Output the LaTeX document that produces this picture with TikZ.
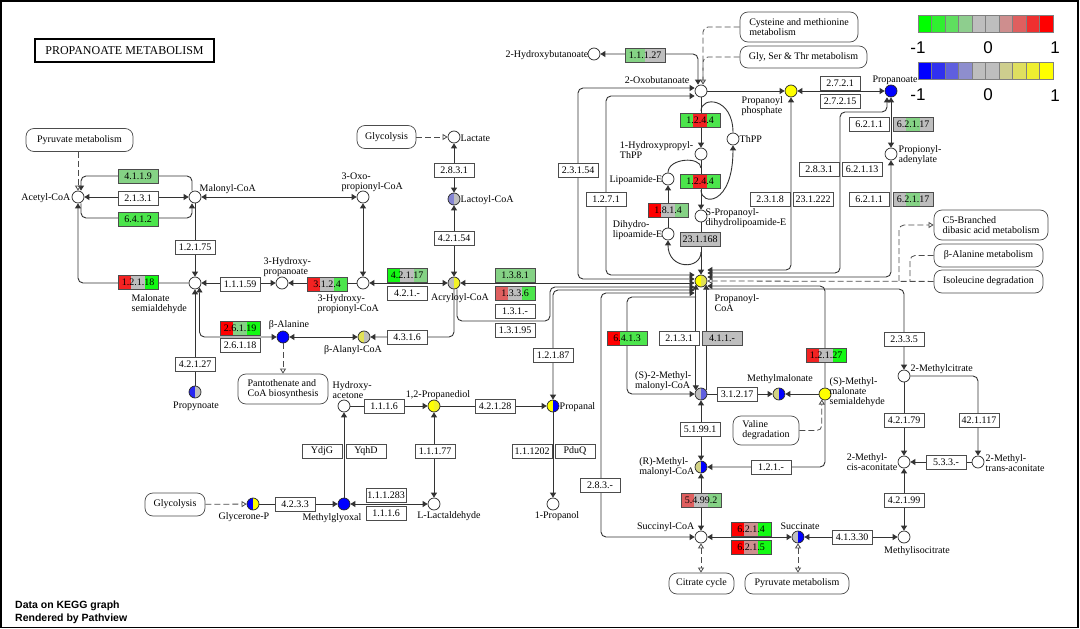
\documentclass[tikz,border=0pt]{standalone}
\usepackage{fontspec}
\setmainfont{Liberation Serif}
\setsansfont{Liberation Sans}
\usetikzlibrary{arrows.meta, calc, positioning}

% pathview colour scale
\definecolor{kgreen}{HTML}{00FF00}
\definecolor{kred}{HTML}{FF0000}
\definecolor{kblue}{HTML}{0000FF}
\definecolor{kyellow}{HTML}{FFFF00}
\definecolor{kgray}{HTML}{BEBEBE}
\colorlet{gA}{kgreen!90!kgray}
\colorlet{gB}{kgreen!60!kgray}
\colorlet{gC}{kgreen!30!kgray}
\colorlet{rA}{kred}
\colorlet{rB}{kred!82!kgray}
\colorlet{rC}{kred!50!kgray}
\colorlet{rD}{kred!25!kgray}
\colorlet{gy}{kgray}
\colorlet{bA}{kblue}
\colorlet{bB}{kblue!80!kgray}
\colorlet{bC}{kblue!50!kgray}
\colorlet{bD}{kblue!30!kgray}
\colorlet{yA}{kyellow}
\colorlet{yB}{kyellow!80!kgray}
\colorlet{yC}{kyellow!55!kgray}
\colorlet{kh}{kyellow!30!kgray}

\tikzset{
  kt/.tip={Triangle[length=5pt, width=6pt]},
  ko/.tip={Triangle[open, length=5pt, width=6pt]}
}

\begin{document}
\begin{tikzpicture}[x=1pt, y=-1pt,
    font=\fontsize{10}{10}\selectfont,
    cpd/.style={circle, draw=black!85, line width=0.7pt, fill=white, minimum size=12pt, inner sep=0pt},
    half/.style 2 args={cpd, path picture={
        \fill[#1] (path picture bounding box.south west) rectangle (path picture bounding box.north);
        \fill[#2] (path picture bounding box.south) rectangle (path picture bounding box.north east);}},
    ec/.style={rectangle, draw=black!70, line width=0.7pt, fill=white, minimum width=40pt, minimum height=14pt, inner sep=0pt},
    ec2/.style 2 args={ec, path picture={
        \fill[#1] (path picture bounding box.south west) rectangle ++(20pt,16pt);
        \fill[#2] ([xshift=20pt]path picture bounding box.south west) rectangle ++(20pt,16pt);}},
    ec3/.style n args={3}{ec, path picture={
        \fill[#1] (path picture bounding box.south west) rectangle ++(13.4pt,16pt);
        \fill[#2] ([xshift=13.33pt]path picture bounding box.south west) rectangle ++(13.4pt,16pt);
        \fill[#3] ([xshift=26.67pt]path picture bounding box.south west) rectangle ++(13.4pt,16pt);}},
    map/.style={rectangle, rounded corners=8pt, draw=black!70, line width=0.7pt, fill=white, minimum height=23pt, inner xsep=6pt, align=left},
    lbl/.style={inner sep=0.5pt, align=left},
    key/.style={font=\sffamily\fontsize{17}{17}\selectfont, inner sep=0pt},
    rx/.style={draw=black!80, line width=0.9pt, -kt, rounded corners=5pt},
    rxx/.style={draw=black!80, line width=0.9pt, kt-kt, rounded corners=5pt},
    mapl/.style={draw=black!70, line width=0.8pt, dash pattern=on 6pt off 3pt, -ko, rounded corners=5pt},
    mapb/.style={draw=black!70, line width=0.8pt, dash pattern=on 6pt off 3pt, ko-ko},
    mapd/.style={draw=black!70, line width=0.8pt, dash pattern=on 6pt off 3pt, rounded corners=5pt}
]
\useasboundingbox (0,0) rectangle (1080,629);
\draw[line width=1.3pt] (1,1) rectangle (1078,627.5);

% title
\node[draw, line width=1.5pt, minimum width=179pt, minimum height=23pt, font=\fontsize{12}{12}\selectfont] (title) at (124.5,50.5) {PROPANOATE METABOLISM};

% colour keys
\foreach \c [count=\i] in {kgreen, kgreen!75!kgray, kgreen!50!kgray, kgreen!25!kgray, kgray, kgray, kred!25!kgray, kred!50!kgray, kred!75!kgray, kred}
  \filldraw[fill=\c, draw=black!50, line width=0.3pt] ({918+13.5*(\i-1)},15) rectangle ++(13.5,17);
\foreach \c [count=\i] in {kblue, kblue!75!kgray, kblue!50!kgray, kblue!25!kgray, kgray, kgray, kyellow!25!kgray, kyellow!50!kgray, kyellow!75!kgray, kyellow}
  \filldraw[fill=\c, draw=black!50, line width=0.3pt] ({918+13.5*(\i-1)},62) rectangle ++(13.5,17);
\node[key] (k1lo) at (918,48) {-1};
\node[key] (k1mid) at (988,48) {0};
\node[key] (k1hi) at (1055,48) {1};
\node[key] (k2lo) at (918,95) {-1};
\node[key] (k2mid) at (988,95) {0};
\node[key] (k2hi) at (1055,96) {1};

% compounds
\node[cpd] (acetyl) at (78,197) {};
\node[cpd] (malonyl) at (195,197) {};
\node[cpd] (oxoprop) at (363,197) {};
\node[cpd] (lactate) at (454,137) {};
\node[half={bD}{gy}] (lactoyl) at (454,199) {};
\node[cpd] (hbut) at (594,54) {};
\node[cpd] (oxobut) at (701,91) {};
\node[cpd, fill=yA] (pphos) at (791,91) {};
\node[cpd, fill=bA] (propanoate) at (891,91) {};
\node[cpd] (padenyl) at (891,154) {};
\node[cpd] (thpp) at (733,139) {};
\node[cpd] (hpthpp) at (701,154) {};
\node[cpd] (lipo) at (668,179) {};
\node[cpd] (spdl) at (701,216) {};
\node[cpd] (dhlipo) at (668,234) {};
\node[half={yA}{yC}] (pcoa) at (701,281) {};
\node[half={gy}{yB}] (acry) at (454,283) {};
\node[cpd] (hpcoa) at (363,283) {};
\node[cpd] (hpa) at (282,283) {};
\node[cpd] (malsa) at (195,283) {};
\node[cpd, fill=bA] (balanine) at (283,337) {};
\node[half={yC}{gy}] (balcoa) at (364,337) {};
\node[half={bB}{gy}] (propynoate) at (195,392) {};
\node[cpd] (hacetone) at (344,406) {};
\node[half={yA}{yB}] (propdiol) at (434,406) {};
\node[half={yA}{bA}] (propanal) at (553,406) {};
\node[cpd, fill=bA] (mgly) at (344,504) {};
\node[half={bA}{yA}] (glycp) at (253,504) {};
\node[cpd] (llact) at (434,504) {};
\node[cpd] (propanol) at (553,504) {};
\node[cpd] (succoa) at (701,537) {};
\node[half={gy}{bA}] (succ) at (798,537) {};
\node[cpd] (micit) at (904,537) {};
\node[cpd] (cisac) at (904,462) {};
\node[cpd] (transac) at (978,462) {};
\node[cpd] (mcit) at (904,376) {};
\node[half={kh}{bA}] (rmmcoa) at (701,467) {};
\node[half={gy}{bC}] (smmcoa) at (701,394) {};
\node[half={kh}{bA}] (mmal) at (779,394) {};
\node[cpd, fill=yA] (mmsa) at (825,394) {};

% pathway maps
\node[map, minimum width=107pt] (pyrmet) at (79.5,140) {Pyruvate metabolism};
\node[map, minimum width=59pt] (glyc1) at (386.5,137) {Glycolysis};
\node[map, minimum width=118pt, minimum height=30pt] (cysmet) at (799,27) {Cysteine and methionine\\metabolism};
\node[map, minimum width=127pt, minimum height=22pt] (glyser) at (803.5,57) {Gly, Ser \& Thr metabolism};
\node[map, minimum width=114pt, minimum height=30pt] (c5) at (991,225) {C5-Branched\\dibasic acid metabolism};
\node[map, minimum width=109pt] (balmet) at (988.5,255.5) {β-Alanine metabolism};
\node[map, minimum width=109pt] (ile) at (988.5,281.5) {Isoleucine degradation};
\node[map, minimum width=90pt, minimum height=30pt] (pantot) at (283,389) {Pantothenate and\\CoA biosynthesis};
\node[map, minimum width=60pt] (glyc2) at (175,504.5) {Glycolysis};
\node[map, minimum width=66pt, minimum height=29pt] (valdeg) at (766,430.5) {Valine\\degradation};
\node[map, minimum width=65pt, minimum height=21pt] (citcyc) at (701.5,583.5) {Citrate cycle};
\node[map, minimum width=104pt, minimum height=21pt] (pyrmet2) at (797,583.5) {Pyruvate metabolism};

% junctions on reaction lines
\coordinate (thpp-a) at (701,111);
\coordinate (thpp-b) at (701,190);
\coordinate (lipo-a) at (701,168);
\coordinate (lipo-b) at (701,252);
\coordinate (mm-j) at (696,297);
\coordinate (c5-j) at (899,281);
\coordinate (bal-j) at (910,281);

% reactions, upper left
\draw[rxx] (acetyl) -- (malonyl);
\draw[rx] ([xshift=-3pt]malonyl.north) |- (140,176) -| ([xshift=3pt]acetyl.north);
\draw[rx] ([xshift=3pt]acetyl.south) |- (140,218) -| ([xshift=-3pt]malonyl.south);
\draw[mapl] (pyrmet.south -| acetyl) -- (acetyl);
\draw[rxx] (malonyl) -- (oxoprop);
\draw[rx] (malonyl) -- (malsa);
\draw[rx] (malsa) -| (acetyl);
\draw[rxx] (hpa) -- (malsa);
\draw[rx] (hpcoa) -- (hpa);
\draw[rxx] (oxoprop) -- (hpcoa);
\draw[rxx] (hpcoa) -- (acry);
\draw[rxx] (lactoyl) -- (acry);
\draw[rxx] (lactate) -- (lactoyl);
\draw[mapl] (glyc1) -- (lactate);

% into propanoyl-CoA from the left
\draw[rxx] (acry) -- ([yshift=-2pt]pcoa.west);
\draw[rx] ([xshift=3pt]acry.south) |- (550,321) -- (550,287) -- ([yshift=-6pt]pcoa.west);
\draw[rx] (acry) |- (balcoa);
\draw[rxx] (propanal) |- ([yshift=-9pt]pcoa.west);
\draw[rxx] ([yshift=-12pt]pcoa.west) -| (601,537) -- (succoa);
\draw[rxx] ([yshift=2pt]pcoa.west) -| (578,88) -- ([yshift=3pt]oxobut.west);
\draw[rxx] ([yshift=6pt]pcoa.west) -| (606,96) -- ([yshift=-5pt]oxobut.west);

% 2-oxobutanoate branch
\draw[rxx] ([xshift=-3pt]oxobut.north) |- (hbut);
\draw[mapl] (cysmet) -| ([xshift=2pt]oxobut.north);
\draw[mapd] (glyser) -| ([xshift=2pt]oxobut.north);
\draw[rx] (oxobut) -- (pphos);
\draw[rxx] (pphos) -- (propanoate);
\draw[rx] (oxobut) -- (hpthpp);
\draw[rx] (hpthpp) -- (spdl);
\draw[rx] (spdl) -- (pcoa);
\draw[draw=black!80, line width=0.9pt] (thpp) .. controls (733,97) and (701,96) .. (thpp-a);
\draw[rx] (thpp-b) .. controls (701,206) and (733,206) .. (thpp);
\draw[draw=black!80, line width=0.9pt] (lipo) .. controls (668,158) and (701,156) .. (lipo-a);
\draw[rx] (lipo-b) .. controls (701,270) and (668,270) .. (dhlipo);
\draw[rx] (dhlipo) -- (lipo);

% into propanoyl-CoA from the right
\draw[rxx] (pphos) |- ([yshift=11pt]pcoa.east);
\draw[rxx] ([yshift=8pt]pcoa.east) -| (840,112) -- (887,112) -- ([xshift=-4pt]propanoate.south);
\draw[rxx] (propanoate) -- (padenyl);
\draw[rxx] (padenyl) |- ([yshift=4pt]pcoa.east);
\draw[mapl] (ile) -- (pcoa);
\draw[mapl] (c5-j) |- (c5);
\draw[mapd] (balmet) -| (bal-j);
\draw[rx] (mmsa) |- ([yshift=-5pt]pcoa.east);
\draw[rx] ([yshift=-8pt]pcoa.east) -| (mcit);

% methylmalonyl-CoA and succinate
\draw[rxx] (pcoa.-145) -- (smmcoa.145);
\draw[rx] (smmcoa.35) -- (pcoa.-35);
\draw[rx] (mm-j) -| (627,330) |- (smmcoa);
\draw[rxx] (smmcoa) -- (rmmcoa);
\draw[rx] (smmcoa) -- (mmal);
\draw[rx] (mmsa) -- (mmal);
\draw[rx] (mmsa) |- (rmmcoa);
\draw[mapl] (valdeg) -| (mmsa.-120);
\draw[rxx] (rmmcoa) -- (succoa);
\draw[rxx] (succoa) -- (succ);
\draw[rxx] (micit) -- (succ);
\draw[rxx] (micit) -- (cisac);
\draw[rx] (mcit) -- (cisac);
\draw[rx] (mcit) -| (transac);
\draw[rx] (transac) -- (cisac);
\draw[mapb] (succoa) -- (citcyc.north -| succoa);
\draw[mapb] (succ) -- (pyrmet2.north -| succ);

% lower left
\draw[rxx] (balanine) -- (balcoa);
\draw[rxx] (balanine) -| (malsa.-45);
\draw[rx] (propynoate) -- (malsa);
\draw[mapl] (balanine) -- (pantot);
\draw[rx] (hacetone) -- (propdiol);
\draw[rx] (propdiol) -- (propanal);
\draw[rx] (propanal) -- (propanol);
\draw[rx] (mgly) -- (hacetone);
\draw[rxx] (mgly) -- (llact);
\draw[rxx] (llact) -- (propdiol);
\draw[rx] (glycp) -- (mgly);
\draw[mapl] (glyc2) -- (glycp);

% enzymes
\node[ec3={gC}{gC}{gC}] (e4119) at (138,176) {4.1.1.9};
\node[ec] (e2131a) at (138,198) {2.1.3.1};
\node[ec3={gB}{gB}{gB}] (e6412) at (138,219) {6.4.1.2};
\node[ec] (e12175) at (195,247) {1.2.1.75};
\node[ec3={rB}{gy}{gA}] (e12118) at (138,282) {1.2.1.18};
\node[ec] (e11159) at (240,284) {1.1.1.59};
\node[ec3={rB}{gy}{gB}] (e3124) at (327,284) {3.1.2.4};
\node[ec3={gA}{gy}{gC}] (e42117) at (407,275) {4.2.1.17};
\node[ec] (e421x) at (407,293) {4.2.1.-};
\node[ec] (e42154) at (454,238) {4.2.1.54};
\node[ec] (e2831a) at (454,170) {2.8.3.1};
\node[ec3={gC}{gC}{gC}] (e1381) at (515,275) {1.3.8.1};
\node[ec3={rC}{gy}{gB}] (e1336) at (515,293) {1.3.3.6};
\node[ec] (e131x) at (515,311) {1.3.1.-};
\node[ec] (e13195) at (515,330) {1.3.1.95};
\node[ec] (e12187) at (553,355) {1.2.1.87};
\node[ec] (e4316) at (407,337) {4.3.1.6};
\node[ec3={rA}{gC}{gA}] (e26119) at (240,328) {2.6.1.19};
\node[ec] (e26118) at (240,345) {2.6.1.18};
\node[ec] (e42127) at (195,364) {4.2.1.27};
\node[ec] (e1116a) at (384,406) {1.1.1.6};
\node[ec] (e42128) at (495,406) {4.2.1.28};
\node[ec] (ydjg) at (322,451) {YdjG};
\node[ec] (yqhd) at (366,451) {YqhD};
\node[ec] (e11177) at (435,451) {1.1.1.77};
\node[ec] (e111202) at (532,451) {1.1.1202};
\node[ec] (pduq) at (575,451) {PduQ};
\node[ec] (e111283) at (386,495) {1.1.1.283};
\node[ec] (e1116b) at (386,513) {1.1.1.6};
\node[ec] (e4233) at (295,504) {4.2.3.3};
\node[ec] (e283x) at (600,485) {2.8.3.-};
\node[ec3={rC}{gy}{gC}] (e54992) at (701,500) {5.4.99.2};
\node[ec3={rA}{rD}{gA}] (e6214) at (751,529) {6.2.1.4};
\node[ec3={rA}{rD}{gA}] (e6215) at (751,547) {6.2.1.5};
\node[ec] (e41330) at (852,537) {4.1.3.30};
\node[ec] (e42199) at (904,500) {4.2.1.99};
\node[ec] (e533x) at (946,462) {5.3.3.-};
\node[ec] (e42179) at (904,420) {4.2.1.79};
\node[ec] (e421117) at (979,420) {42.1.117};
\node[ec] (e2335) at (904,339) {2.3.3.5};
\node[ec] (e51991) at (700,429) {5.1.99.1};
\node[ec] (e2131b) at (679,338) {2.1.3.1};
\node[ec, fill=gy] (e411x) at (722,338) {4.1.1.-};
\node[ec3={rA}{gB}{gB}] (e6413) at (627,338) {6.4.1.3};
\node[ec] (e31217) at (737,394) {3.1.2.17};
\node[ec3={rB}{gy}{gA}] (e12127) at (826,355) {1.2.1.27};
\node[ec] (e121x) at (771,467) {1.2.1.-};
\node[ec] (e23154) at (578,170) {2.3.1.54};
\node[ec] (e1271) at (606,199) {1.2.7.1};
\node[ec2={gC}{gy}] (e11127) at (645,55) {1.1.1.27};
\node[ec3={gB}{rB}{gB}] (e1244a) at (700,120) {1.2.4.4};
\node[ec3={gB}{rB}{gB}] (e1244b) at (700,181) {1.2.4.4};
\node[ec3={rA}{gy}{gC}] (e1814) at (668,210) {1.8.1.4};
\node[ec, fill=gy] (e231168) at (700,239) {23.1.168};
\node[ec] (e2318) at (770,199) {2.3.1.8};
\node[ec] (e231222) at (813,199) {23.1.222};
\node[ec] (e2831b) at (819,169) {2.8.3.1};
\node[ec] (e62113) at (862,169) {6.2.1.13};
\node[ec] (e6211a) at (869,124) {6.2.1.1};
\node[ec3={gy}{gC}{gy}] (e62117a) at (913,124) {6.2.1.17};
\node[ec] (e6211b) at (869,199) {6.2.1.1};
\node[ec3={gy}{gC}{gy}] (e62117b) at (913,199) {6.2.1.17};
\node[ec] (e2721) at (840,83) {2.7.2.1};
\node[ec] (e27215) at (840,101) {2.7.2.15};

% compound names
\node[lbl, anchor=east] (acetyl-t) at (71,198) {Acetyl-CoA};
\node[lbl, anchor=west] (malonyl-t) at (199,189) {Malonyl-CoA};
\node[lbl, anchor=south west] (oxoprop-t) at (341,192) {3-Oxo-\\propionyl-CoA};
\node[lbl, anchor=west] (lactate-t) at (460,138) {Lactate};
\node[lbl, anchor=west] (lactoyl-t) at (460,200) {Lactoyl-CoA};
\node[lbl, anchor=east] (hbut-t) at (589,55) {2-Hydroxybutanoate};
\node[lbl, anchor=east] (oxobut-t) at (690,80) {2-Oxobutanoate};
\node[lbl, anchor=north west] (pphos-t) at (741,96) {Propanoyl\\phosphate};
\node[lbl, anchor=south] (propanoate-t) at (895,85) {Propanoate};
\node[lbl, anchor=west] (padenyl-t) at (898,155) {Propionyl-\\adenylate};
\node[lbl, anchor=west] (thpp-t) at (739,139) {ThPP};
\node[lbl, anchor=east] (hpthpp-t) at (694,150) {1-Hydroxypropyl-\\ThPP};
\node[lbl, anchor=east] (lipo-t) at (663,180) {Lipoamide-E};
\node[lbl, anchor=north west] (spdl-t) at (705,208) {S-Propanoyl-\\dihydrolipoamide-E};
\node[lbl, anchor=east] (dhlipo-t) at (663,230) {Dihydro-\\lipoamide-E};
\node[lbl, anchor=north west] (pcoa-t) at (714,294) {Propanoyl-\\CoA};
\node[lbl, anchor=north] (acry-t) at (460,293) {Acryloyl-CoA};
\node[lbl, anchor=north west] (hpcoa-t) at (317,294) {3-Hydroxy-\\propionyl-CoA};
\node[lbl, anchor=south west] (hpa-t) at (263,277) {3-Hydroxy-\\propanoate};
\node[lbl, anchor=north west] (malsa-t) at (131,294) {Malonate\\semialdehyde};
\node[lbl, anchor=south] (balanine-t) at (289,330) {β-Alanine};
\node[lbl, anchor=north] (balcoa-t) at (353,345) {β-Alanyl-CoA};
\node[lbl, anchor=north] (propynoate-t) at (196,401) {Propynoate};
\node[lbl, anchor=south west] (hacetone-t) at (332,399) {Hydroxy-\\acetone};
\node[lbl, anchor=south] (propdiol-t) at (438,400) {1,2-Propanediol};
\node[lbl, anchor=west] (propanal-t) at (559,407) {Propanal};
\node[lbl, anchor=north] (glycp-t) at (244,512) {Glycerone-P};
\node[lbl, anchor=north] (mgly-t) at (332,513) {Methylglyoxal};
\node[lbl, anchor=north] (llact-t) at (449,511) {L-Lactaldehyde};
\node[lbl, anchor=north] (propanol-t) at (557,511) {1-Propanol};
\node[lbl, anchor=south east] (succoa-t) at (695,532) {Succinyl-CoA};
\node[lbl, anchor=south] (succ-t) at (800,530) {Succinate};
\node[lbl, anchor=north] (micit-t) at (917,546) {Methylisocitrate};
\node[lbl, anchor=east] (cisac-t) at (898,462) {2-Methyl-\\cis-aconitate};
\node[lbl, anchor=west] (transac-t) at (985,463) {2-Methyl-\\trans-aconitate};
\node[lbl, anchor=west] (mcit-t) at (910,369) {2-Methylcitrate};
\node[lbl, anchor=east] (rmmcoa-t) at (695,467) {(R)-Methyl-\\malonyl-CoA};
\node[lbl, anchor=east] (smmcoa-t) at (692,381) {(S)-2-Methyl-\\malonyl-CoA};
\node[lbl, anchor=south] (mmal-t) at (780,384) {Methylmalonate};
\node[lbl, anchor=west] (mmsa-t) at (829,392) {(S)-Methyl-\\malonate\\semialdehyde};

% credit
\node[anchor=north west, align=left, inner sep=0pt, font=\sffamily\bfseries\fontsize{10.5}{13}\selectfont] (credit) at (15,601) {Data on KEGG graph\\Rendered by Pathview};
\end{tikzpicture}
\end{document}
